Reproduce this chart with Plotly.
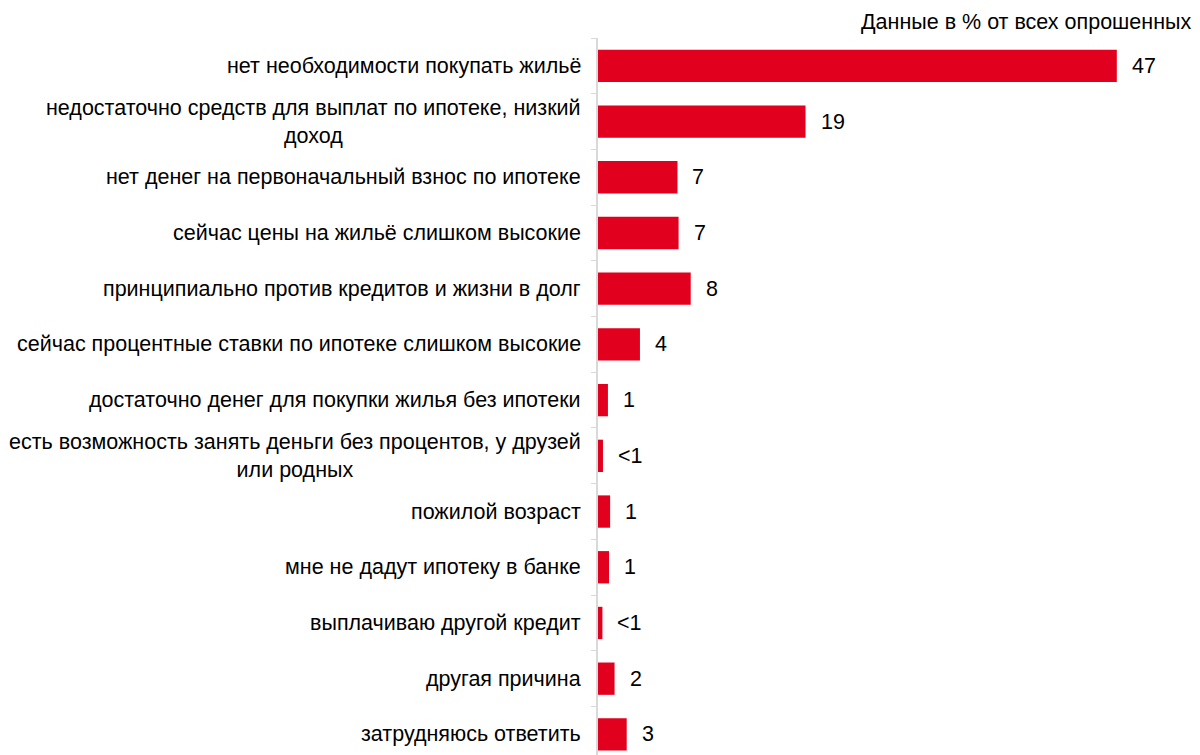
import plotly.graph_objects as go

categories = [
    "нет необходимости покупать жильё",
    "недостаточно средств для выплат по ипотеке, низкий<br>доход",
    "нет денег на первоначальный взнос по ипотеке",
    "сейчас цены на жильё слишком высокие",
    "принципиально против кредитов и жизни в долг",
    "сейчас процентные ставки по ипотеке слишком высокие",
    "достаточно денег для покупки жилья без ипотеки",
    "есть возможность занять деньги без процентов, у друзей<br>или родных",
    "пожилой возраст",
    "мне не дадут ипотеку в банке",
    "выплачиваю другой кредит",
    "другая причина",
    "затрудняюсь ответить",
]
values = [47, 18.8, 7.2, 7.3, 8.4, 3.8, 0.9, 0.45, 1.1, 1.0, 0.4, 1.5, 2.6]
value_labels = ["47", "19", "7", "7", "8", "4", "1", "<1", "1", "1", "<1", "2", "3"]

FONT = "Liberation Sans, Arial, sans-serif"
RED = "#E1001E"
FS = 21.5

fig = go.Figure(go.Bar(
    x=values,
    y=categories,
    orientation="h",
    marker=dict(color=RED, line=dict(width=0)),
    width=0.58,
    hoverinfo="skip",
))

annotations = []
for cat, val, lab in zip(categories, values, value_labels):
    # value next to the bar end
    annotations.append(dict(
        x=val, y=cat, xref="x", yref="y", text=lab, showarrow=False,
        xanchor="left", xshift=13, font=dict(size=FS, color="#000000", family=FONT),
    ))
    # category label left of the axis, centred lines
    annotations.append(dict(
        x=0, y=cat, xref="paper", yref="y", text=cat, showarrow=False,
        xanchor="right", align="center", xshift=-15,
        font=dict(size=FS, color="#000000", family=FONT),
    ))

annotations.append(dict(
    x=1, y=1, xref="paper", yref="paper", text="Данные в % от всех опрошенных",
    showarrow=False, xanchor="right", yanchor="middle", yshift=16, xshift=21,
    font=dict(size=FS, color="#000000", family=FONT),
))

fig.update_layout(
    width=1192,
    height=747,
    plot_bgcolor="white",
    paper_bgcolor="white",
    showlegend=False,
    margin=dict(l=590, r=28, t=30, b=0),
    font=dict(family=FONT, size=FS, color="#000000"),
    annotations=annotations,
    xaxis=dict(range=[0, 52], visible=False),
    yaxis=dict(
        range=[12.37, -0.5],
        showticklabels=False,
        showline=True,
        linecolor="#D9D9D9",
        linewidth=1.5,
        ticks="outside",
        tickson="boundaries",
        ticklen=5,
        tickcolor="#D9D9D9",
        showgrid=False,
    ),
)

fig.write_html("out.html")
